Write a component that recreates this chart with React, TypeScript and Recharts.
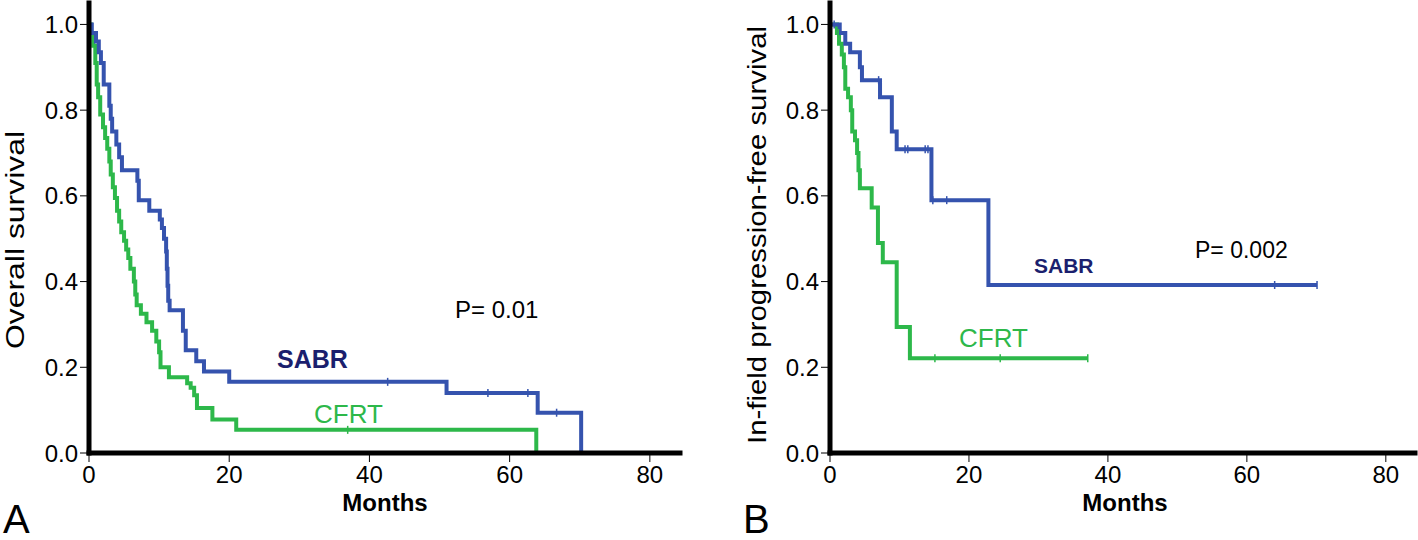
import React from "react";
import { ComposedChart, Line, Scatter, XAxis, YAxis } from "recharts";

// ---- Panel A: Overall survival (months, survival) ----
const sabrA: [number, number][] = [
  [0, 1], [0.4, 0.98], [1.0, 0.96], [1.4, 0.935], [1.7, 0.91], [2.1, 0.86], [2.9, 0.81],
  [3.1, 0.78], [3.3, 0.75], [3.9, 0.72], [4.3, 0.69], [4.7, 0.66], [6.9, 0.635], [7.1, 0.59],
  [8.6, 0.565], [10.1, 0.545], [10.4, 0.525], [10.7, 0.5], [11.0, 0.47], [11.1, 0.43],
  [11.2, 0.39], [11.3, 0.355], [11.5, 0.333], [13.4, 0.285], [13.8, 0.24], [15.3, 0.214],
  [16.4, 0.19], [20.0, 0.166], [51.0, 0.14], [64.0, 0.094], [70.2, 0],
];
const cfrtA: [number, number][] = [
  [0, 1], [0.3, 0.98], [0.6, 0.95], [0.9, 0.91], [1.1, 0.86], [1.3, 0.83], [1.6, 0.79],
  [2.0, 0.76], [2.3, 0.735], [2.6, 0.71], [2.9, 0.68], [3.1, 0.65], [3.4, 0.62], [3.7, 0.595],
  [4.0, 0.565], [4.3, 0.54], [4.6, 0.515], [5.0, 0.495], [5.3, 0.475], [5.6, 0.455],
  [5.9, 0.43], [6.4, 0.4], [6.6, 0.37], [6.8, 0.345], [7.4, 0.325], [8.2, 0.305], [9.0, 0.285],
  [9.6, 0.26], [10.0, 0.235], [10.2, 0.2], [11.4, 0.177], [14.0, 0.163], [14.5, 0.152],
  [15.0, 0.135], [15.4, 0.105], [17.6, 0.078], [21.0, 0.054], [63.8, 0],
];
const sabrACensor = [42.6, 56.9, 62.6, 66.7];
const cfrtACensor = [36.9];

// ---- Panel B: In-field progression-free survival ----
const sabrB: [number, number][] = [
  [0, 1], [1.4, 0.98], [2.2, 0.955], [2.9, 0.935], [4.3, 0.9], [4.6, 0.87], [7.2, 0.83],
  [8.9, 0.75], [9.6, 0.709], [14.6, 0.59], [22.8, 0.392], [70.1, 0.392],
];
const cfrtB: [number, number][] = [
  [0, 1], [1.0, 0.98], [1.3, 0.955], [1.7, 0.93], [2.0, 0.9], [2.2, 0.85], [2.6, 0.83],
  [3.0, 0.8], [3.2, 0.75], [3.6, 0.73], [3.9, 0.7], [4.1, 0.66], [4.3, 0.618], [6.0, 0.573],
  [6.9, 0.49], [7.6, 0.445], [9.6, 0.294], [11.5, 0.221], [37.1, 0.221],
];
const sabrBCensor = [0.6, 7.0, 10.8, 11.2, 13.7, 14.1, 14.8, 16.8, 64.0, 70.1];
const cfrtBCensor = [1.2, 15.1, 24.5, 37.1];

const xTicks = [0, 20, 40, 60, 80];
const yTicks = [0, 0.2, 0.4, 0.6, 0.8, 1.0];

const BLUE = "#3553AE";
const GREEN = "#2DB84A";
const NAVY = "#1B1F6E";
const FONT = "'Liberation Sans', Arial, sans-serif";

const toRows = (pts: [number, number][]) => pts.map(([t, s]) => ({ t, s }));
const survAt = (pts: [number, number][], t: number) => {
  let s = pts[0][1];
  for (const [pt, ps] of pts) if (pt <= t) s = ps;
  return s;
};
const censorRows = (pts: [number, number][], times: number[]) =>
  times.map((t) => ({ t, s: survAt(pts, t) }));

const tickShape = (color: string) => (p: any) => (
  <line x1={p.cx} x2={p.cx} y1={p.cy - 4} y2={p.cy + 4} stroke={color} strokeWidth={1.5} />
);

const axisLine = { stroke: "#000", strokeWidth: 5, strokeLinecap: "square" as const };
const tickLine = { stroke: "#000", strokeWidth: 1 };
const tickStyle = { fill: "#000", fontSize: 24, fontFamily: FONT };

function Panel(props: {
  left: number;
  yWidth: number;
  rightMargin: number;
  xMax: number;
  sabr: [number, number][];
  cfrt: [number, number][];
  sabrC: number[];
  cfrtC: number[];
}) {
  const { left, yWidth, rightMargin, xMax, sabr, cfrt, sabrC, cfrtC } = props;
  return (
    <div style={{ position: "absolute", left, top: 0 }}>
      <ComposedChart width={709} height={540} margin={{ top: 3, right: rightMargin, bottom: 0, left: 0 }}>
        <XAxis
          type="number"
          dataKey="t"
          domain={[0, xMax]}
          ticks={xTicks}
          allowDataOverflow
          height={87}
          axisLine={axisLine}
          tickLine={tickLine}
          tickSize={9}
          tickMargin={4}
          tick={tickStyle}
        />
        <YAxis
          type="number"
          domain={[0, 1.05]}
          ticks={yTicks}
          allowDataOverflow
          width={yWidth}
          axisLine={axisLine}
          tickLine={tickLine}
          tickSize={9}
          tickMargin={2}
          tick={tickStyle}
          tickFormatter={(v: number) => v.toFixed(1)}
        />
        <Line data={toRows(cfrt)} dataKey="s" type="stepAfter" stroke={GREEN} strokeWidth={4} dot={false} isAnimationActive={false} />
        <Line data={toRows(sabr)} dataKey="s" type="stepAfter" stroke={BLUE} strokeWidth={4} dot={false} isAnimationActive={false} />
        <Scatter data={censorRows(cfrt, cfrtC)} dataKey="s" shape={tickShape(GREEN)} isAnimationActive={false} />
        <Scatter data={censorRows(sabr, sabrC)} dataKey="s" shape={tickShape(BLUE)} isAnimationActive={false} />
      </ComposedChart>
    </div>
  );
}

export default function App() {
  return (
    <div style={{ position: "absolute", left: 0, top: 0, width: 1418, height: 540, background: "#fff", overflow: "hidden" }}>
      <Panel left={0} yWidth={89} rightMargin={29} xMax={84.3} sabr={sabrA} cfrt={cfrtA} sabrC={sabrACensor} cfrtC={cfrtACensor} />
      <Panel left={709} yWidth={121} rightMargin={3} xMax={84.2} sabr={sabrB} cfrt={cfrtB} sabrC={sabrBCensor} cfrtC={cfrtBCensor} />
      <svg width={1418} height={540} style={{ position: "absolute", left: 0, top: 0, pointerEvents: "none" }} fontFamily={FONT}>
        <text x={15} y={240} fontSize={25} textAnchor="middle" dominantBaseline="central" textLength={218} lengthAdjust="spacingAndGlyphs" transform="rotate(-90 15 240)" fill="#000">Overall survival</text>
        <text x={757} y={235} fontSize={25} textAnchor="middle" dominantBaseline="central" textLength={418} lengthAdjust="spacingAndGlyphs" transform="rotate(-90 757 235)" fill="#000">In-field progression-free survival</text>
        <text x={385} y={511} fontSize={24} fontWeight="bold" textAnchor="middle" fill="#000">Months</text>
        <text x={1125} y={511} fontSize={24} fontWeight="bold" textAnchor="middle" fill="#000">Months</text>
        <text x={3} y={533} fontSize={40} fill="#000">A</text>
        <text x={743} y={533} fontSize={40} fill="#000">B</text>
        <text x={455} y={318} fontSize={24} fill="#000">P= 0.01</text>
        <text x={277} y={368} fontSize={25} fontWeight="bold" fill={NAVY}>SABR</text>
        <text x={314} y={423} fontSize={26} fill={GREEN}>CFRT</text>
        <text x={1195} y={258} fontSize={23} fill="#000">P= 0.002</text>
        <text x={1034} y={273} fontSize={21} fontWeight="bold" fill={NAVY}>SABR</text>
        <text x={959} y={347} fontSize={26} fill={GREEN}>CFRT</text>
      </svg>
    </div>
  );
}
